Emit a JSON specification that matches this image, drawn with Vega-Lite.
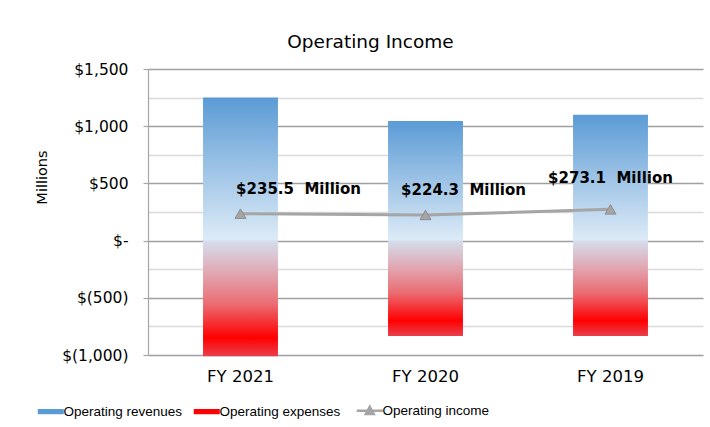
{
  "$schema": "https://vega.github.io/schema/vega-lite/v6.json",
  "width": 555,
  "height": 286,
  "autosize": "none",
  "padding": {"left": 148, "top": 69, "right": 7, "bottom": 72},
  "background": "white",
  "config": {"view": {"stroke": null}, "font": "DejaVu Sans"},
  "title": {"text": "Operating Income", "font": "DejaVu Sans", "fontSize": 18.5, "fontWeight": "normal", "color": "#000000", "offset": 11, "dx": -55},
  "data": {"values": [
    {"year": "FY 2021", "series": "Operating revenues", "value": 1250, "label": ""},
    {"year": "FY 2021", "series": "Operating expenses", "value": -1012, "label": ""},
    {"year": "FY 2021", "series": "Operating income", "value": 235.5, "label": "$235.5\u00a0 Million"},
    {"year": "FY 2020", "series": "Operating revenues", "value": 1046, "label": ""},
    {"year": "FY 2020", "series": "Operating expenses", "value": -833, "label": ""},
    {"year": "FY 2020", "series": "Operating income", "value": 224.3, "label": "$224.3\u00a0 Million"},
    {"year": "FY 2019", "series": "Operating revenues", "value": 1099, "label": ""},
    {"year": "FY 2019", "series": "Operating expenses", "value": -833, "label": ""},
    {"year": "FY 2019", "series": "Operating income", "value": 273.1, "label": "$273.1\u00a0 Million"}
  ]},
  "encoding": {
    "x": {"field": "year", "type": "nominal", "sort": ["FY 2021", "FY 2020", "FY 2019"],
      "scale": {"paddingInner": 0.595, "paddingOuter": 0.2975},
      "axis": {"title": null, "domain": false, "ticks": false, "tickSize": 0, "labelAngle": 0, "labelFont": "DejaVu Sans", "labelFontSize": 16.5, "labelColor": "#000000", "labelPadding": 13}},
    "y": {"field": "value", "type": "quantitative",
      "scale": {"domain": [-1000, 1500], "nice": false, "zero": false},
      "axis": {"title": "Millions", "titleFont": "DejaVu Sans", "titleFontSize": 14.5, "titleFontWeight": "normal", "titleColor": "#000000",
        "titleAngle": 270, "titleX": -106, "titleY": 108, "titleBaseline": "middle", "titleAlign": "center",
        "values": [-1000, -750, -500, -250, 0, 250, 500, 750, 1000, 1250, 1500],
        "labelExpr": "datum.value % 500 !== 0 ? '' : (datum.value === 0 ? '$-' : (datum.value < 0 ? '$(' + format(-datum.value, ',') + ')' : '$' + format(datum.value, ',')))",
        "labelFont": "DejaVu Sans", "labelFontSize": 15.5, "labelColor": "#000000", "labelPadding": 15,
        "domainColor": "#A6A6A6", "domainWidth": 1.2,
        "tickSize": 5, "tickColor": "#A6A6A6", "tickWidth": 1.2,
        "tickOpacity": {"condition": {"test": "datum.value % 500 === 0", "value": 1}, "value": 0},
        "grid": true,
        "gridColor": {"condition": {"test": "datum.value % 500 === 0", "value": "#A0A0A0"}, "value": "#DADADA"},
        "gridWidth": {"condition": {"test": "datum.value % 500 === 0", "value": 1.3}, "value": 1.6}}}
  },
  "layer": [
    {
      "mark": {"type": "bar", "opacity": 0},
      "encoding": {
        "y": {"field": "value", "type": "quantitative", "stack": null},
        "color": {"field": "series", "type": "nominal",
          "scale": {"domain": ["Operating revenues", "Operating expenses", "Operating income"],
            "range": ["#5B9BD5", "#FF0000", "#A5A5A5"]},
          "legend": {"title": null, "orient": "none", "direction": "horizontal", "legendX": -104, "legendY": 335,
            "labelFont": "Liberation Sans", "labelFontSize": 13.5, "labelColor": "#000000", "labelOffset": 6, "columnPadding": 10,
            "symbolSize": 676, "symbolStrokeWidth": 0, "symbolOpacity": 1,
            "encode": {"symbols": {"update": {
              "shape": {"signal": "datum.label === 'Operating income' ? 'M-1,0H1M-0.3,0.24L0,-0.3L0.3,0.24Z' : 'M-1,-0.2H1V0.2H-1Z'"},
              "stroke": {"signal": "datum.label === 'Operating income' ? '#A5A5A5' : 'transparent'"},
              "strokeWidth": {"signal": "datum.label === 'Operating income' ? 2.5 : 0"},
              "fill": {"signal": "datum.label === 'Operating revenues' ? {gradient: 'linear', x1: 0, y1: 0, x2: 0, y2: 1, stops: [{offset: 0, color: '#7FB0DE'}, {offset: 1, color: '#C9DDF1'}]} : (datum.label === 'Operating expenses' ? {gradient: 'linear', x1: 0, y1: 0, x2: 0, y2: 1, stops: [{offset: 0, color: '#F08080'}, {offset: 0.5, color: '#FF0000'}, {offset: 1, color: '#F06060'}]} : '#A5A5A5')"},
              "opacity": {"value": 1},
              "fillOpacity": {"value": 1}
            }}}}}
      }
    },
    {
      "transform": [{"filter": "datum.series === 'Operating revenues'"}],
      "mark": {"type": "bar", "fill": {"gradient": "linear", "x1": 0, "y1": 0, "x2": 0, "y2": 1, "stops": [{"offset": 0, "color": "#5B9BD5"}, {"offset": 0.5, "color": "#9DC3E6"}, {"offset": 1, "color": "#DDEBF7"}]}},
      "encoding": {"y": {"field": "value", "type": "quantitative", "stack": null}}
    },
    {
      "transform": [{"filter": "datum.series === 'Operating expenses'"}],
      "mark": {"type": "bar", "fill": {"gradient": "linear", "x1": 0, "y1": 0, "x2": 0, "y2": 1, "stops": [{"offset": 0, "color": "#D4DEEE"}, {"offset": 0.3, "color": "#E2A3AD"}, {"offset": 0.55, "color": "#EB6B72"}, {"offset": 0.84, "color": "#FF0000"}, {"offset": 1, "color": "#E8404C"}]}},
      "encoding": {"y": {"field": "value", "type": "quantitative", "stack": null}}
    },
    {
      "transform": [{"filter": "datum.series === 'Operating income'"}],
      "mark": {"type": "line", "color": "#A5A5A5", "strokeWidth": 3},
      "encoding": {}
    },
    {
      "transform": [{"filter": "datum.series === 'Operating income'"}],
      "mark": {"type": "point", "shape": "triangle-up", "size": 120, "filled": true, "fill": "#A5A5A5", "stroke": "#8C8C8C", "strokeWidth": 1, "opacity": 1},
      "encoding": {}
    },
    {
      "transform": [{"filter": "datum.year === 'FY 2021' && datum.series === 'Operating income'"}],
      "mark": {"type": "text", "font": "DejaVu Sans", "fontSize": 15, "fontWeight": "bold", "color": "#000000", "align": "center", "baseline": "middle", "dx": 58, "dy": -25},
      "encoding": {"text": {"field": "label"}}
    },
    {
      "transform": [{"filter": "datum.year === 'FY 2020' && datum.series === 'Operating income'"}],
      "mark": {"type": "text", "font": "DejaVu Sans", "fontSize": 15, "fontWeight": "bold", "color": "#000000", "align": "center", "baseline": "middle", "dx": 38, "dy": -25},
      "encoding": {"text": {"field": "label"}}
    },
    {
      "transform": [{"filter": "datum.year === 'FY 2019' && datum.series === 'Operating income'"}],
      "mark": {"type": "text", "font": "DejaVu Sans", "fontSize": 15, "fontWeight": "bold", "color": "#000000", "align": "center", "baseline": "middle", "dx": 0, "dy": -31.5},
      "encoding": {"text": {"field": "label"}}
    }
  ]
}
